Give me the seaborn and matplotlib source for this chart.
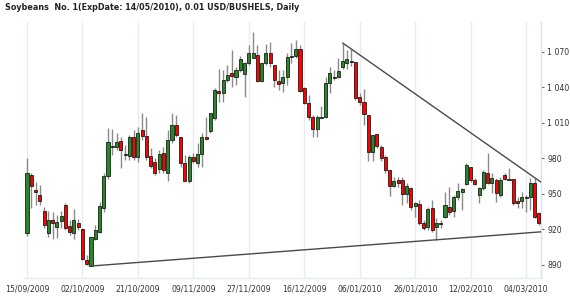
import matplotlib
matplotlib.use("Agg")
import matplotlib.pyplot as plt
import seaborn as sns
import numpy as np
import pandas as pd

sns.set_style("white")
plt.rcParams["font.family"] = ["DejaVu Sans"]

title = "Soybeans  No. 1(ExpDate: 14/05/2010), 0.01 USD/BUSHELS, Daily"

opens = [917, 966, 953.5, 949, 935.5, 917, 928, 922, 927, 940.5,
         923, 917, 925.5, 920.5, 894, 889, 912, 918, 938, 965,
         989.5, 989.5, 995, 984, 982, 998, 981.5, 1004, 999, 982,
         977, 971, 984.5, 967.5, 995.5, 1008.5, 998, 976, 961, 981.5,
         976, 984, 998, 1003, 1014, 1037, 1035.5, 1046.5, 1052, 1049,
         1055, 1051.5, 1060.5, 1065, 1067.5, 1045.5, 1060.5, 1069, 1059, 1045.5,
         1044, 1049, 1066, 1066.5, 1072.5, 1039.5, 1027, 1015, 1005, 1014.5,
         1015, 1044, 1048, 1049, 1057.5, 1060.5, 1061.5, 1061.5, 1032, 1028,
         1017, 985.5, 1000.5, 990, 981.5, 970.5, 957, 962, 962, 950,
         955, 939.5, 941.5, 925.5, 922, 938, 922, 924.5, 930.5, 939,
         935.5, 947.5, 951.5, 958.5, 973, 962, 949, 955, 967.5, 959.5,
         962, 949, 966, 962, 962.5, 944, 944, 946.5, 947.5, 959.5,
         934]
highs = [980.5, 967.5, 960, 957.5, 939, 935.5, 935, 932, 935.5, 942.5,
         928, 937.5, 929, 921, 898.5, 914.5, 923.5, 943, 967.5, 1005.5,
         1005, 1001.5, 998, 991.5, 1000, 1004, 1006.5, 1018.5, 1015, 989,
         980.5, 987, 990, 1004, 1018.5, 1016.5, 998, 983, 983, 984.5,
         993, 1001.5, 1015, 1018.5, 1039.5, 1055.5, 1055, 1059, 1071.5, 1057.5,
         1066.5, 1061.5, 1076, 1087, 1076, 1061.5, 1077, 1078.5, 1059, 1055,
         1055, 1069, 1077.5, 1080, 1076, 1040.5, 1033.5, 1016.5, 1016.5, 1024.5,
         1049, 1057.5, 1055, 1065, 1077.5, 1071.5, 1072.5, 1061.5, 1035.5, 1039,
         1017, 1000, 1000.5, 991.5, 983, 970.5, 964.5, 964.5, 964.5, 959.5,
         956, 943, 945, 928, 939, 945, 929.5, 928, 951.5, 956,
         949, 959.5, 955, 976, 973, 963.5, 956, 970, 984.5, 967.5,
         963.5, 964.5, 967.5, 972, 962.5, 947.5, 951.5, 949, 963.5, 963.5,
         934.5]
lows = [914.5, 938, 940.5, 940.5, 921, 913.5, 912, 913, 921, 919.5,
        915.5, 912, 919.5, 894, 890, 889, 911, 917, 934.5, 962.5,
        983, 987, 972, 978.5, 978.5, 978.5, 977, 995.5, 978.5, 972,
        966, 967.5, 967.5, 961, 993, 998, 973, 961, 959.5, 976,
        973, 973, 995.5, 1001.5, 1012.5, 1027.5, 1027.5, 1044.5, 1040.5, 1042,
        1053, 1032, 1059, 1065, 1044.5, 1044.5, 1059, 1057.5, 1040.5, 1038,
        1036, 1042, 1060.5, 1065, 1036, 1026, 1012.5, 998, 998, 1014,
        1014, 1035.5, 1046.5, 1048, 1055.5, 1055.5, 1058, 1029.5, 1025, 1008.5,
        978, 978, 989, 978, 967.5, 948.5, 956, 956, 940.5, 942.5,
        936.5, 930.5, 923.5, 919.5, 919.5, 918, 911, 921, 929.5, 932,
        930.5, 945, 936.5, 957.5, 960, 957.5, 942.5, 953.5, 958.5, 951,
        943, 947.5, 962, 962, 940.5, 938, 938, 934.5, 936.5, 930,
        923.5]
closes = [967.5, 957, 951.5, 944, 924, 928, 925.5, 926.5, 931.5, 921,
          918, 928, 922, 895, 891, 913.5, 919.5, 940, 965, 994,
          990.5, 994, 987, 983, 998, 981.5, 1001.5, 999, 981.5, 973.5,
          967.5, 984, 970.5, 995.5, 1008.5, 1000, 976, 961, 981.5, 978,
          984, 998, 996.5, 1018.5, 1038, 1035.5, 1046.5, 1050.5, 1049.5, 1055,
          1064, 1060.5, 1069, 1069, 1045.5, 1060.5, 1069, 1060.5, 1046.5, 1043,
          1049, 1066, 1066.5, 1072.5, 1037, 1027, 1015, 1005, 1015, 1015,
          1044, 1052, 1049, 1054, 1062.5, 1064, 1062.5, 1031, 1028, 1017.5,
          985.5, 1000, 990.5, 980.5, 970.5, 957, 961, 959.5, 950, 957,
          939, 942.5, 925.5, 921, 937.5, 919.5, 925.5, 925.5, 940.5, 934.5,
          947.5, 952.5, 954, 974.5, 962, 958.5, 955, 968.5, 959.5, 963.5,
          951, 962, 962.5, 962.5, 942.5, 942.5, 947.5, 947.5, 959.5, 930.5,
          925.5]

date_ticks = [0, 13, 26, 39, 52, 65, 78, 91, 104, 117]
date_labels = ["15/09/2009", "02/10/2009", "21/10/2009", "09/11/2009", "27/11/2009",
               "16/12/2009", "06/01/2010", "26/01/2010", "12/02/2010", "04/03/2010"]
price_ticks = [890, 920, 950, 980, 1010, 1040, 1070]
price_labels = ["890", "920", "950", "980", "1 010", "1 040", "1 070"]

upper_trend_x = [74, 120.5]
upper_trend_y = [1077.6, 960.0]
lower_trend_x = [14.6, 120.5]
lower_trend_y = [889.0, 918.0]

df = pd.DataFrame({"o": opens, "h": highs, "l": lows, "c": closes})
df["i"] = np.arange(len(df))
df["bottom"] = np.minimum(df.o, df.c)
df["height"] = np.maximum((df.c - df.o).abs(), 0.45)
up = df.c >= df.o

W, H = 570, 296
fig = plt.figure(figsize=(W / 100, H / 100), dpi=100)
ax = fig.add_axes([24 / W, 1 - 278 / H, (541 - 24) / W, (278 - 22) / H])

ax.vlines(df.i, df.l, df.h, color="#8a8a8a", lw=1.0, zorder=2)
ax.bar(df.i[up], df.height[up], bottom=df.bottom[up], width=0.72,
       color="#258a25", edgecolor="#1c1c1c", linewidth=0.6, zorder=3)
ax.bar(df.i[~up], df.height[~up], bottom=df.bottom[~up], width=0.72,
       color="#ff0000", edgecolor="#1c1c1c", linewidth=0.6, zorder=3)

ax.plot(upper_trend_x, upper_trend_y, color="#4a4a4a", lw=1.0, zorder=4)
ax.plot(lower_trend_x, lower_trend_y, color="#4a4a4a", lw=1.0, zorder=4)

ax.set_xlim(-0.7, 120.5)
ax.set_ylim(879.0, 1095.3)

ax.set_xticks(date_ticks)
ax.set_xticklabels(date_labels, fontsize=5.6, color="#333333")
ax.set_yticks(price_ticks)
ax.set_yticklabels(price_labels, fontsize=5.6, color="#333333")
ax.yaxis.tick_right()
ax.tick_params(axis="x", length=0, pad=4.5)
ax.tick_params(axis="y", length=2.5, width=0.8, color="#666666", pad=2.0, right=True, left=False)

ax.grid(False)
for t in date_ticks:
    ax.axvline(t, color="#e4edf6", lw=1.0, zorder=0)

for side in ["top", "left"]:
    ax.spines[side].set_visible(False)
ax.spines["right"].set_color("#d5e2ef")
ax.spines["right"].set_linewidth(1.0)
ax.spines["bottom"].set_color("#e4edf6")
ax.spines["bottom"].set_linewidth(1.0)

fig.text(5 / W, 1 - 8 / H, title, fontsize=5.8, fontweight="bold",
         color="#222222", va="center", ha="left")

fig.savefig("out.png", dpi=100, facecolor="white")
